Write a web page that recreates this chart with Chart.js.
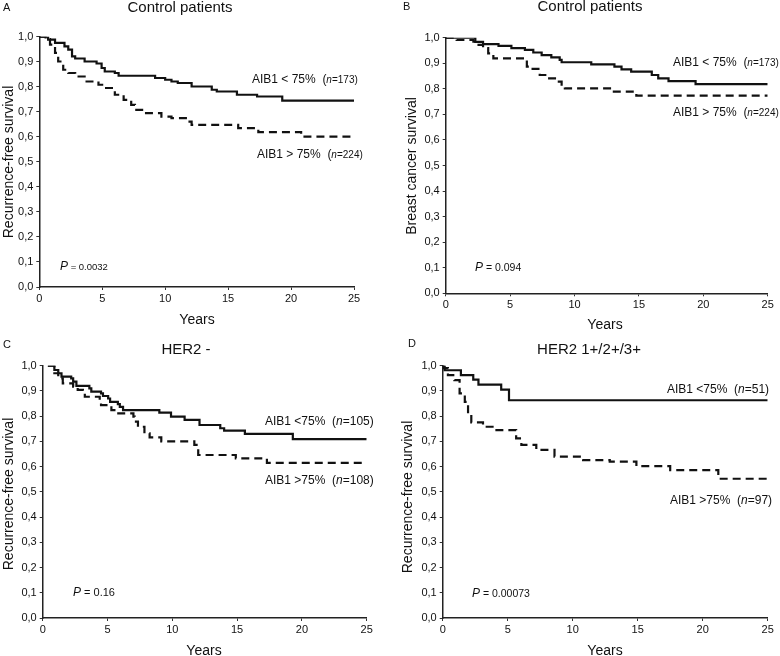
<!DOCTYPE html>
<html>
<head>
<meta charset="utf-8">
<script src="https://cdn.jsdelivr.net/npm/chart.js@4/dist/chart.umd.min.js"></script>
<style>
  body { margin: 0; background: #fff; }
  #wrap { position: relative; width: 780px; height: 656px; }
  #wrap canvas { position: absolute; left: 0; top: 0; }
</style>
</head>
<body>
<div id="wrap">
  <canvas id="chartA" width="780" height="656"></canvas>
  <canvas id="chartB" width="780" height="656"></canvas>
  <canvas id="chartC" width="780" height="656"></canvas>
  <canvas id="chartD" width="780" height="656"></canvas>
</div>
<script>
// x axis ticks (years) and y axis ticks (survival)
const yearTicks = [0, 5, 10, 15, 20, 25];
const survTicks = [0, 0.1, 0.2, 0.3, 0.4, 0.5, 0.6, 0.7, 0.8, 0.9, 1.0];

// A - Control patients, recurrence-free survival
const aLowT  = [0, 0.7, 1.25, 2.0, 2.3, 2.6, 2.85, 3.6, 4.55, 4.95, 5.2, 6.0, 6.3, 9.2, 10.0, 10.5, 11.0, 12.1, 13.7, 14.1, 15.7, 17.3, 19.3, 25];
const aLowS  = [1, 0.988, 0.975, 0.961, 0.948, 0.921, 0.913, 0.901, 0.893, 0.875, 0.861, 0.855, 0.844, 0.835, 0.828, 0.821, 0.815, 0.801, 0.788, 0.781, 0.768, 0.761, 0.745, 0.745];
const aHighT = [0, 0.5, 0.85, 1.25, 1.5, 1.9, 2.3, 2.85, 3.6, 4.7, 5.2, 6.0, 6.7, 7.3, 7.6, 8.3, 9.7, 10.5, 11.8, 12.1, 15.8, 17.4, 20.8, 25];
const aHighS = [1, 0.99, 0.968, 0.935, 0.901, 0.868, 0.855, 0.841, 0.821, 0.808, 0.795, 0.768, 0.748, 0.728, 0.708, 0.695, 0.681, 0.675, 0.661, 0.648, 0.635, 0.619, 0.601, 0.601];

// B - Control patients, breast cancer survival
const bLowT  = [0, 2.3, 2.9, 4.1, 5.1, 6.15, 6.8, 7.45, 8.2, 8.85, 9.0, 11.3, 13.1, 13.65, 14.4, 16.0, 16.5, 17.3, 19.4, 25];
const bLowS  = [1, 0.984, 0.975, 0.968, 0.959, 0.952, 0.942, 0.932, 0.923, 0.913, 0.904, 0.896, 0.887, 0.876, 0.867, 0.854, 0.841, 0.83, 0.818, 0.818];
const bHighT = [0, 0.85, 2.15, 2.55, 2.9, 3.3, 3.7, 6.3, 6.55, 7.3, 7.85, 8.6, 9.0, 9.25, 12.9, 14.8, 25];
const bHighS = [1, 0.991, 0.985, 0.972, 0.959, 0.939, 0.919, 0.887, 0.878, 0.854, 0.841, 0.828, 0.808, 0.802, 0.789, 0.773, 0.773];

// C - HER2 -, recurrence-free survival
const cLowT  = [0.4, 0.9, 1.2, 1.45, 2.2, 2.35, 2.6, 3.6, 3.75, 4.5, 4.65, 5.05, 5.2, 5.8, 5.95, 6.2, 9.0, 9.9, 10.95, 12.1, 13.7, 14.0, 15.6, 19.3, 25];
const cLowS  = [1, 0.983, 0.97, 0.957, 0.95, 0.937, 0.92, 0.91, 0.897, 0.89, 0.88, 0.87, 0.857, 0.848, 0.837, 0.824, 0.814, 0.798, 0.785, 0.765, 0.752, 0.743, 0.73, 0.709, 0.709];
const cHighT = [0.4, 0.9, 1.2, 1.55, 2.35, 2.7, 3.1, 3.25, 4.4, 4.5, 5.3, 5.7, 7.0, 7.1, 7.35, 7.85, 8.25, 9.15, 11.7, 12.0, 14.9, 17.3, 25];
const cHighS = [1, 0.97, 0.95, 0.93, 0.917, 0.904, 0.89, 0.877, 0.864, 0.844, 0.824, 0.811, 0.798, 0.778, 0.758, 0.732, 0.716, 0.7, 0.686, 0.646, 0.633, 0.615, 0.615];

// D - HER2 1+/2+/3+, recurrence-free survival
const dLowT  = [0, 0.15, 1.4, 2.35, 2.75, 4.5, 5.1, 25];
const dLowS  = [1, 0.982, 0.963, 0.945, 0.925, 0.905, 0.863, 0.863];
const dHighT = [0, 0.1, 0.4, 0.9, 1.3, 1.7, 1.95, 2.2, 3.1, 4.0, 5.65, 6.05, 7.2, 8.6, 10.8, 12.85, 14.9, 17.5, 21.2, 25];
const dHighS = [1, 0.99, 0.963, 0.943, 0.89, 0.857, 0.805, 0.775, 0.758, 0.745, 0.712, 0.686, 0.666, 0.64, 0.626, 0.62, 0.602, 0.586, 0.552, 0.552];

const FONT = '"Liberation Sans", Arial, sans-serif';
const INK = '#111';

function pts(ts, ss) {
    return ts.map((t, i) => ({ x: t, y: ss[i] }));
}

function drawParts(ctx, x, y, parts) {
    ctx.textAlign = 'left';
    ctx.textBaseline = 'middle';
    parts.forEach(p => {
        ctx.font = (p.i ? 'italic ' : '') + p.s + 'px ' + FONT;
        ctx.fillText(p.t, x, y);
        x += ctx.measureText(p.t).width;
    });
}

// text labels of each panel, drawn after the chart
const textPlugin = {
    id: 'panelText',
    afterDraw(chart, args, o) {
        const ctx = chart.ctx;
        ctx.save();
        ctx.fillStyle = INK;
        ctx.textBaseline = 'middle';
        ctx.font = '11px ' + FONT;
        ctx.textAlign = 'left';
        ctx.fillText(o.letter[0], o.letter[1], o.letter[2]);
        ctx.font = '15px ' + FONT;
        ctx.textAlign = 'center';
        ctx.fillText(o.title[0], o.title[1], o.title[2]);
        ctx.font = '14px ' + FONT;
        ctx.fillText('Years', o.years[0], o.years[1]);
        ctx.save();
        ctx.translate(o.ytitle[1], o.ytitle[2]);
        ctx.rotate(-Math.PI / 2);
        ctx.fillText(o.ytitle[0], 0, 0);
        ctx.restore();
        drawParts(ctx, o.low[0], o.low[1], o.low[2]);
        drawParts(ctx, o.high[0], o.high[1], o.high[2]);
        drawParts(ctx, o.p[0], o.p[1], [{ t: 'P', s: 12, i: true }, { t: ' = ' + o.p[2], s: o.p[3] }]);
        ctx.restore();
    }
};

function nParts(label, n, small) {
    if (small) {
        return [{ t: label + '  (', s: 12 }, { t: 'n', s: 10, i: true }, { t: '=' + n + ')', s: 10 }];
    }
    return [{ t: label + '  (', s: 12 }, { t: 'n', s: 12, i: true }, { t: '=' + n + ')', s: 12 }];
}

function makeChart(id, low, high, pad, text) {
    new Chart(document.getElementById(id), {
        type: 'line',
        data: {
            datasets: [
                { data: low, borderColor: INK, borderWidth: 2.2, stepped: true, pointRadius: 0, fill: false },
                { data: high, borderColor: INK, borderWidth: 2.2, borderDash: [8, 5], stepped: true, pointRadius: 0, fill: false }
            ]
        },
        options: {
            responsive: false,
            animation: false,
            devicePixelRatio: 1,
            layout: { padding: pad },
            plugins: {
                legend: { display: false },
                tooltip: { enabled: false },
                panelText: text
            },
            scales: {
                x: {
                    type: 'linear',
                    min: 0,
                    max: 25,
                    afterFit: s => { s.height = 25; },
                    afterBuildTicks: s => { s.ticks = yearTicks.map(v => ({ value: v })); },
                    grid: { display: true, drawOnChartArea: false, tickLength: 3, color: '#333' },
                    border: { display: true, color: '#222', width: 1.5 },
                    ticks: { color: INK, padding: 2, maxRotation: 0, font: { family: FONT, size: 11 } }
                },
                y: {
                    min: 0,
                    max: 1,
                    afterFit: s => { s.width = 30; },
                    afterBuildTicks: s => { s.ticks = survTicks.map(v => ({ value: v })); },
                    grid: { display: true, drawOnChartArea: false, tickLength: 3, color: '#333' },
                    border: { display: true, color: '#222', width: 1.5 },
                    ticks: {
                        color: INK,
                        padding: 3,
                        font: { family: FONT, size: 11 },
                        callback: v => v.toFixed(1).replace('.', ',')
                    }
                }
            }
        },
        plugins: [textPlugin]
    });
}

makeChart('chartA', pts(aLowT, aLowS), pts(aHighT, aHighS),
    { left: 9.3, right: 426, top: 36.7, bottom: 344 },
    {
        letter: ['A', 3, 8], title: ['Control patients', 180, 8], years: [197, 320],
        ytitle: ['Recurrence-free survival', 9, 162],
        low: [252, 80, nParts('AIB1 < 75%', 173, true)],
        high: [257, 155, nParts('AIB1 > 75%', 224, true)],
        p: [60, 267, '0.0032', 9.5]
    });

makeChart('chartB', pts(bLowT, bLowS), pts(bHighT, bHighS),
    { left: 415.7, right: 12.3, top: 37.7, bottom: 337.7 },
    {
        letter: ['B', 403, 7], title: ['Control patients', 590, 7], years: [605, 325],
        ytitle: ['Breast cancer survival', 412, 166],
        low: [673, 63, nParts('AIB1 < 75%', 173, true)],
        high: [673, 113, nParts('AIB1 > 75%', 224, true)],
        p: [475, 268, '0.094', 10.5]
    });

makeChart('chartC', pts(cLowT, cLowS), pts(cHighT, cHighS),
    { left: 12.7, right: 413.3, top: 365.7, bottom: 13 },
    {
        letter: ['C', 3, 345], title: ['HER2 -', 186, 350], years: [204, 651],
        ytitle: ['Recurrence-free survival', 9, 494],
        low: [265, 422, nParts('AIB1 <75%', 105, false)],
        high: [265, 481, nParts('AIB1 >75%', 108, false)],
        p: [73, 593, '0.16', 11]
    });

makeChart('chartD', pts(dLowT, dLowS), pts(dHighT, dHighS),
    { left: 412.7, right: 12.3, top: 365.7, bottom: 13 },
    {
        letter: ['D', 408, 344], title: ['HER2 1+/2+/3+', 589, 350], years: [605, 651],
        ytitle: ['Recurrence-free survival', 408, 497],
        low: [667, 390, nParts('AIB1 <75%', 51, false)],
        high: [670, 501, nParts('AIB1 >75%', 97, false)],
        p: [472, 594, '0.00073', 10.5]
    });
</script>
</body>
</html>
